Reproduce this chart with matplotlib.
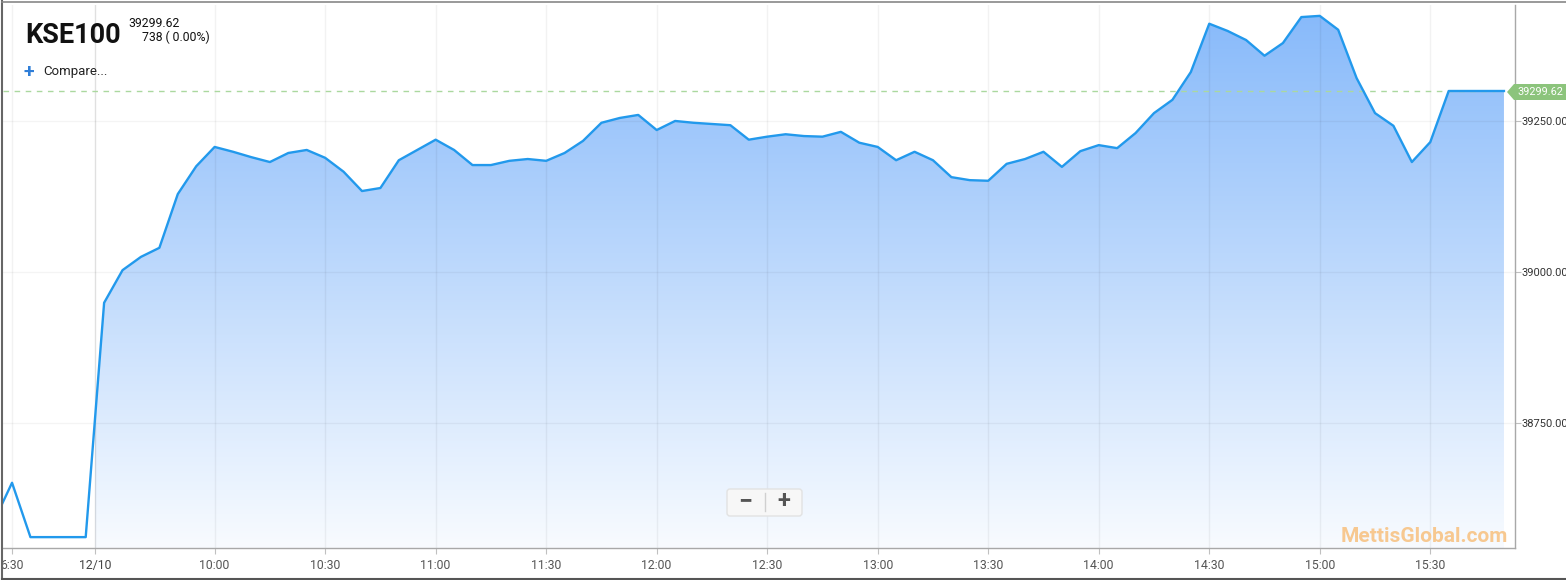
import matplotlib
matplotlib.use('Agg')
import matplotlib.pyplot as plt
import matplotlib.transforms as mtransforms
from matplotlib.patches import Polygon, FancyBboxPatch
from matplotlib.lines import Line2D
from matplotlib.colors import LinearSegmentedColormap
import numpy as np

plt.rcParams['font.family'] = ['Roboto', 'DejaVu Sans']

# ---- data (5-minute points on an ordinal axis) ----
values = [38586, 38651, 38561, 38561, 38561, 38561, 38949, 39003, 39025, 39040,
          39129, 39175, 39207, 39199, 39190, 39182, 39197, 39202, 39189, 39166,
          39134, 39139, 39185, 39202, 39219, 39202, 39177, 39177, 39184, 39187,
          39184, 39197, 39217, 39247, 39255, 39260, 39235, 39250, 39247, 39245,
          39243, 39219, 39224, 39228, 39225, 39224, 39232, 39214, 39207, 39185,
          39199, 39185, 39157, 39152, 39151, 39179, 39187, 39199, 39174, 39200,
          39210, 39205, 39230, 39263, 39285, 39331, 39411, 39399, 39384, 39358,
          39379, 39422, 39424, 39401, 39321, 39263, 39242, 39182, 39215, 39299.62,
          39299.62, 39299.62, 39299.62]
last_value = 39299.62
x_labels = ["6:30", "12/10", "10:00", "10:30", "11:00", "11:30", "12:00", "12:30",
            "13:00", "13:30", "14:00", "14:30", "15:00", "15:30"]
y_ticks = [38750, 39000, 39250]
title = "KSE100"
sub1 = "39299.62"
sub2 = "738 ( 0.00%)"

x = np.arange(-1, -1 + len(values))
tick_pos = [0, 4.5] + [11 + 6 * k for k in range(len(x_labels) - 2)]
session_start = 4.5

W, H = 1566, 580
fig = plt.figure(figsize=(W / 100, H / 100), dpi=100)
fig.patch.set_facecolor('white')
# pixel transform (y down)
T = mtransforms.Affine2D().scale(1 / W, -1 / H).translate(0, 1) + fig.transFigure

ax = fig.add_axes([3 / W, 32 / H, 1512 / W, 543 / H])
ax.set_facecolor('white')
ax.set_xlim(-0.49, 81.6)
ax.set_ylim(38543, 39442)

# gradient fill (current session only)
fill = ax.fill_between(x, values, 38543, facecolor='none', edgecolor='none')
cmap = LinearSegmentedColormap.from_list('g', [(248/255, 251/255, 1.0), (136/255, 186/255, 250/255)])
grad = np.linspace(0, 1, 256).reshape(-1, 1)
im = ax.imshow(grad, extent=[session_start, x[-1], 38543, max(values)], origin='lower',
               cmap=cmap, aspect='auto', zorder=1, interpolation='bilinear')
im.set_clip_path(fill.get_paths()[0], transform=ax.transData)

# grid
for i, tp in enumerate(tick_pos):
    ax.axvline(tp, color=(0, 0, 0, 0.12 if i == 1 else 0.05), lw=1, zorder=1.5)
for yt in y_ticks:
    ax.axhline(yt, color=(0, 0, 0, 0.045), lw=1, zorder=1.5)

# last value dashed line
ax.plot([-0.49, 80.5], [last_value, last_value], color='#abd89f', lw=1,
        dashes=(4, 4), zorder=2)

# main line
ax.plot(x, values, color='#2299ec', lw=1.7, zorder=3, solid_joinstyle='round')

# axes styling
for s in ['left', 'top']:
    ax.spines[s].set_visible(False)
for s in ['right', 'bottom']:
    ax.spines[s].set_color('#a8a8a8')
    ax.spines[s].set_linewidth(1)
ax.set_xticks(tick_pos)
ax.set_xticklabels(x_labels)
ax.tick_params(axis='x', length=4, color='#c0c0c0', labelsize=8.8, labelcolor='#555555', pad=4)
ax.yaxis.tick_right()
ax.set_yticks(y_ticks)
ax.set_yticklabels([f"{v:.2f}" for v in y_ticks])
ax.tick_params(axis='y', length=4, color='#c0c0c0', labelsize=8, labelcolor='#333333', pad=1)
for lab in ax.get_xticklabels():
    if lab.get_text() == "12/10":
        lab.set_color('#444444')

# green last-value label
poly = Polygon([(1507, 92), (1514, 84), (1566, 84), (1566, 100), (1514, 100)],
               closed=True, transform=T, facecolor='#8cc47c', edgecolor='none', zorder=5)
fig.add_artist(poly)
fig.text(1517, 92, f"{last_value:.2f}", transform=T, color='white', fontsize=7.8,
         ha='left', va='center', zorder=6)

# title block
fig.text(25, 43, title, transform=T, fontsize=19.5, fontweight='bold', color='#111111',
         ha='left', va='baseline')
fig.text(128, 27, sub1, transform=T, fontsize=8.8, color='#111111', ha='left', va='baseline')
fig.text(142, 41, sub2, transform=T, fontsize=8.8, color='#111111', ha='left', va='baseline')
fig.text(24, 72, "+", transform=T, fontsize=14, fontweight='bold', color='#2f7ed8',
         ha='left', va='center')
fig.text(43, 72, "Compare...", transform=T, fontsize=9.5, color='#222222', ha='left', va='center')

# zoom buttons
btn = FancyBboxPatch((727, 489), 75, 27, boxstyle='round,pad=0,rounding_size=3',
                     transform=T, facecolor='#f7f7f7', edgecolor='#e2e2e2', lw=1, zorder=5)
fig.add_artist(btn)
fig.add_artist(Line2D([765, 765], [493, 511], transform=T, color='#d0d0d0', lw=1, zorder=6))
fig.text(745, 501, "\u2212", transform=T, fontsize=18, fontweight='bold', color='#555555',
         ha='center', va='center', zorder=7)
fig.text(784, 501, "+", transform=T, fontsize=17, fontweight='bold', color='#555555',
         ha='center', va='center', zorder=7)

# watermark
fig.text(1508, 536, "MettisGlobal.com", transform=T, fontsize=15, fontweight='bold',
         color='#f7c890', ha='right', va='center', zorder=6)

# outer frame
fig.add_artist(Line2D([2, 2], [1, 579], transform=T, color='#666666', lw=1.5))
fig.add_artist(Line2D([2, 1566], [1.5, 1.5], transform=T, color='#888888', lw=1.2))
fig.add_artist(Line2D([2, 1566], [578.5, 578.5], transform=T, color='#555555', lw=1.5))

fig.savefig('out.png', dpi=100, facecolor='white')
